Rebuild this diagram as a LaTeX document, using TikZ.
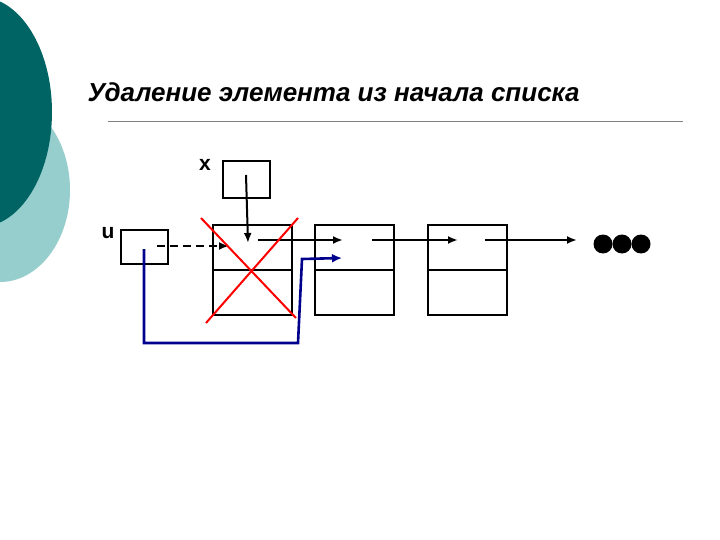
\documentclass[tikz,border=0pt]{standalone}
\usepackage{fontspec}
\setmainfont{Liberation Sans}
\usetikzlibrary{arrows.meta}
\definecolor{lteal}{RGB}{150,205,205}
\definecolor{dteal}{RGB}{0,100,100}
\definecolor{dblue}{RGB}{0,0,140}
\begin{document}
\begin{tikzpicture}[x=1pt,y=-1pt,
  cell/.style={draw,line width=1.6pt},
  ptr/.style={line width=2pt,-{Latex[length=10pt,width=8pt]}},
  blu/.style={draw=dblue,line width=2.6pt,-{Latex[length=10pt,width=9pt]}},
  lbl/.style={font=\bfseries\fontsize{21}{21}\selectfont,inner sep=0pt}]
\useasboundingbox (0,0) rectangle (720,540);
\fill[white] (0,0) rectangle (720,540);
\begin{scope}
\clip (0,0) rectangle (720,540);
\fill[lteal] (0,190) ellipse [x radius=70, y radius=92];
\fill[dteal] (-20,112) ellipse [x radius=72, y radius=115];
\end{scope}
\node[anchor=west,font=\bfseries\itshape\fontsize{26}{26}\selectfont] (title) at (84,92) {Удаление элемента из начала списка};
\draw[gray,line width=0.8pt] (108,121) coordinate (l1) -- (683,121) coordinate (l2);
\draw[cell] (223,161) rectangle (270,198) coordinate (xb);
\node[lbl] (xl) at (205,165) {x};
\draw[cell] (121,230) rectangle (168,264);
\node[lbl] (ul) at (108,233) {u};
\foreach \a/\n in {213/n1,315/n2,428/n3}{
  \draw[cell] (\a,225) rectangle ++(79,90);
  \draw[cell] (\a,270) -- ++(79,0);
}
\coordinate (xs) at (246,175); \coordinate (xe) at (248,243);
\draw[ptr] (xs) -- (xe);
\draw[ptr,dash pattern=on 8pt off 5pt] (157,246) -- (229,246);
\draw[ptr] (258,240) -- (343,240);
\draw[ptr] (372,240) -- (458,240);
\draw[ptr] (485,240) -- (577,240);
\draw[blu] (144,249) -- (144,343) -- (298,343) -- (302,259) -- (342,258);
\draw[red,line width=2pt] (201,218) -- (296,318) (298,218) -- (206,323);
\foreach \c in {603,622,641} \fill (\c,244) circle (9.5);
\end{tikzpicture}
\end{document}
